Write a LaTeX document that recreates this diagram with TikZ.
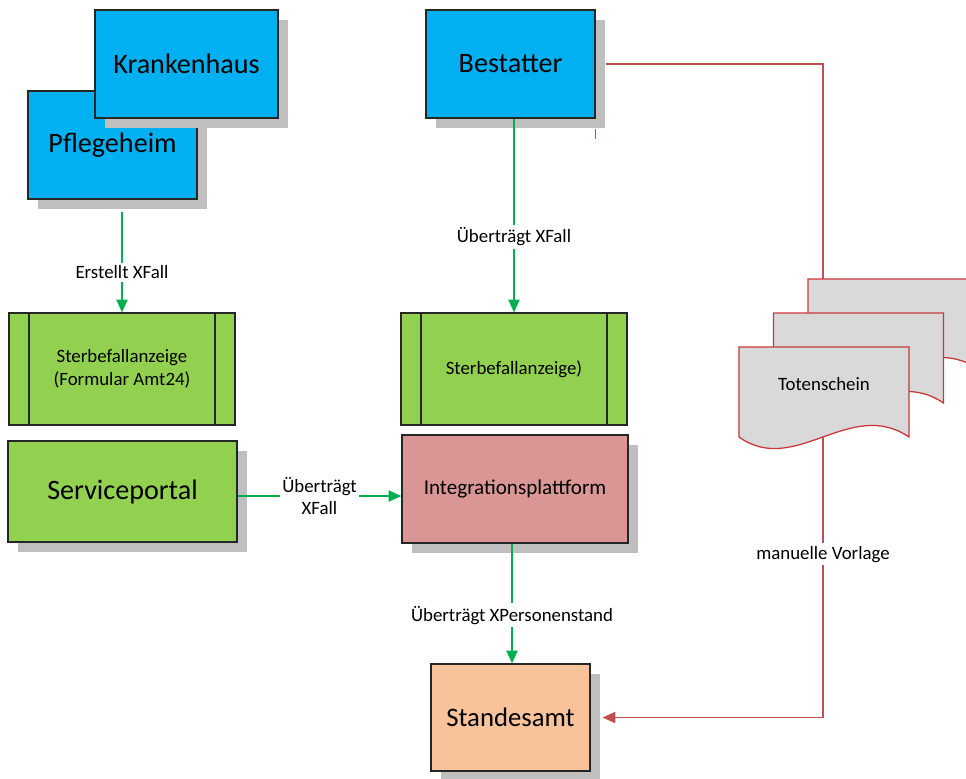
\documentclass[tikz,border=0pt]{standalone}
\usepackage{fontspec}
\setmainfont{Carlito}
\usepackage{tikz}
\usetikzlibrary{shapes,arrows,arrows.meta,shadows}
\definecolor{boxblue}{HTML}{00B0F0}
\definecolor{boxgreen}{HTML}{92D050}
\definecolor{boxrose}{HTML}{D99694}
\definecolor{boxorange}{HTML}{F8C39B}
\definecolor{shadowgray}{HTML}{BFBFBF}
\definecolor{docgray}{HTML}{D9D9D9}
\definecolor{arrowgreen}{HTML}{00B050}
\definecolor{linered}{HTML}{C0504D}
\definecolor{docred}{HTML}{C8383A}
\tikzstyle{block} = [rectangle, draw=black!85, line width=0.9pt, align=center,
    general shadow={fill=shadowgray, shadow xshift=0.25cm, shadow yshift=-0.25cm}]
\tikzstyle{bigblock} = [block, font=\fontsize{20}{24}\selectfont]
\tikzstyle{process} = [rectangle, draw=black!85, line width=0.9pt, fill=boxgreen,
    minimum width=5.65cm, minimum height=2.8cm, align=center,
    font=\fontsize{13.4}{16.5}\selectfont,
    path picture={
      \draw[line width=0.9pt] ([xshift=0.5cm]path picture bounding box.north west) -- ([xshift=0.5cm]path picture bounding box.south west);
      \draw[line width=0.9pt] ([xshift=-0.5cm]path picture bounding box.north east) -- ([xshift=-0.5cm]path picture bounding box.south east);}]
\tikzstyle{line} = [draw=arrowgreen, line width=0.8pt, -{Triangle[length=9pt,width=8pt]}]
\tikzstyle{redline} = [draw=linered, line width=0.8pt]
\tikzstyle{doc} = [draw=docred, fill=docgray, line width=0.9pt]
\tikzstyle{lbl} = [fill=white, inner sep=2pt, align=center, font=\fontsize{13.4}{16}\selectfont]
\begin{document}
\begin{tikzpicture}[x=0.025cm, y=-0.025cm]
    \useasboundingbox (0,0) rectangle (966,778);
    \clip (0,0) rectangle (966,778);
    % Place nodes
    \node [bigblock, fill=boxblue, minimum width=4.225cm, minimum height=2.7cm] (pflege) at (112.5,145) {Pflegeheim};
    \node [bigblock, fill=boxblue, minimum width=4.575cm, minimum height=2.7cm] (kranken) at (186.5,64) {Krankenhaus};
    \node [bigblock, fill=boxblue, minimum width=4.225cm, minimum height=2.7cm] (bestatter) at (510.5,64) {Bestatter};
    \node [process] (sterbA) at (122,369) {Sterbefallanzeige\\(Formular Amt24)};
    \node [process] (sterbB) at (514,369) {Sterbefallanzeige)};
    \node [bigblock, fill=boxgreen, minimum width=5.725cm, minimum height=2.525cm] (portal) at (122.5,491.5) {Serviceportal};
    \node [block, fill=boxrose, minimum width=5.65cm, minimum height=2.7cm, font=\fontsize{15}{18}\selectfont] (integ) at (515,489) {Integrationsplattform};
    \node [bigblock, fill=boxorange, minimum width=3.975cm, minimum height=2.675cm, font=\fontsize{19}{23}\selectfont] (standes) at (510.5,717.5) {Standesamt};
    % Totenschein stack
    \foreach \dx/\dy in {69/-68, 34.5/-34, 0/0} {
        \path [doc, shift={(\dx,\dy)}] (739,347) -- (909,347) -- (909,437)
            .. controls (850,397) and (795,477) .. (739,437) -- cycle;
    }
    \node [font=\fontsize{13.4}{16}\selectfont] (toten) at (824,384) {Totenschein};
    \coordinate (doctop) at (823,279);
    \coordinate (docbot) at (823,436);
    % Draw edges
    \path [line] ([yshift=-0.3cm]pflege.south -| sterbA.north) -- node [lbl, pos=0.6] {Erstellt XFall} (sterbA.north);
    \path [line] (bestatter.south -| sterbB.north) -- node [lbl, pos=0.61] {Überträgt XFall} (sterbB.north);
    \path [line] (portal.east |- 0,496) -- node [lbl] {Überträgt\\XFall} (integ.west |- 0,496);
    \path [line] (integ.south -| 512,0) -- node [lbl, pos=0.6] {Überträgt XPersonenstand} (standes.north -| 512,0);
    \path [redline] ([xshift=0.25cm]bestatter.east) -| (doctop);
    \path [redline] ([yshift=-0.25cm]bestatter.south east) -- ++(0,10);
    \path [redline, -{Triangle[length=9pt,width=8pt]}] (docbot) |- node [lbl, pos=0.21] {manuelle Vorlage} ([xshift=0.3cm]standes.east);
\end{tikzpicture}
\end{document}
